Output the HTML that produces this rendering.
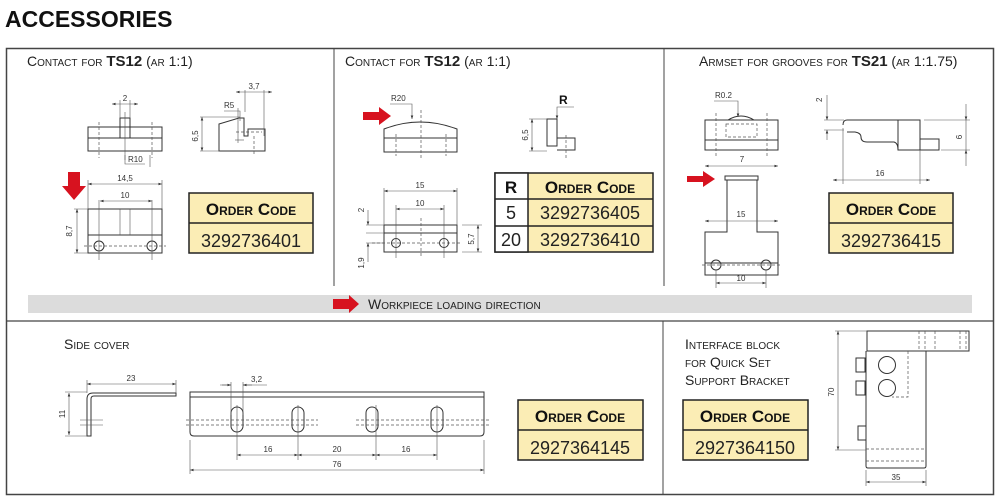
<!DOCTYPE html>
<html><head><meta charset="utf-8"><style>
body{margin:0;background:#fff;}
svg{display:block;font-family:"Liberation Sans",sans-serif;}
.t{font-variant:small-caps;font-size:14px;fill:#222;}
.d{font-size:8px;fill:#333;}
.l{stroke:#333;stroke-width:1;fill:none;}
.th{stroke:#555;stroke-width:.6;fill:none;}
.dash{stroke:#555;stroke-width:.7;fill:none;stroke-dasharray:3 2;}
.oc{font-variant:small-caps;font-weight:bold;font-size:17px;fill:#111;}
.num{font-size:18px;fill:#222;}
</style></head><body>
<svg width="1000" height="503" viewBox="0 0 1000 503">
<defs>
<marker id="a" markerWidth="6" markerHeight="6" refX="6" refY="3" orient="auto"><path d="M0,0.8 L6,3 L0,5.2Z" fill="#333"/></marker>
<marker id="b" markerWidth="6" markerHeight="6" refX="0" refY="3" orient="auto"><path d="M6,0.8 L0,3 L6,5.2Z" fill="#333"/></marker>
</defs>
<text x="5" y="27" font-size="23" font-weight="bold" fill="#111">ACCESSORIES</text>
<!-- frame -->
<rect x="6.5" y="48.5" width="987" height="446" fill="none" stroke="#444" stroke-width="1.5"/>
<line x1="334" y1="49" x2="334" y2="286" stroke="#444"/>
<line x1="664" y1="49" x2="664" y2="286" stroke="#444"/>
<line x1="6" y1="321" x2="994" y2="321" stroke="#444" stroke-width="1.2"/>
<line x1="663" y1="321" x2="663" y2="494" stroke="#444"/>
<rect x="28" y="295" width="944" height="18" fill="#dcdcdc"/>
<path d="M333,299 h16 v-4 l10,9 l-10,9 v-4 h-16z" fill="#d7121f"/>
<text x="368" y="309" class="t" font-size="13">Workpiece loading direction</text>

<!-- titles -->
<text x="27" y="66" class="t">Contact  for <tspan font-weight="bold" font-variant="normal" font-size="15">TS12</tspan> (ar 1:1)</text>
<text x="345" y="66" class="t">Contact  for <tspan font-weight="bold" font-variant="normal" font-size="15">TS12</tspan> (ar 1:1)</text>
<text x="699" y="66" class="t">Armset for grooves for <tspan font-weight="bold" font-variant="normal" font-size="15">TS21</tspan> (ar 1:1.75)</text>
<text x="64" y="349" class="t">Side cover</text>
<text x="685" y="349" class="t">Interface block</text>
<text x="685" y="367" class="t">for Quick Set</text>
<text x="685" y="385" class="t">Support Bracket</text>

<!-- order boxes -->
<g stroke="#222" stroke-width="1.5">
<rect x="189" y="193" width="124" height="60" fill="#fbedb5"/><line x1="189" y1="223" x2="313" y2="223"/>
<rect x="829" y="193" width="124" height="60" fill="#fbedb5"/><line x1="829" y1="223" x2="953" y2="223"/>
<rect x="518" y="400" width="125" height="60" fill="#fbedb5"/><line x1="518" y1="430" x2="643" y2="430"/>
<rect x="683" y="400" width="125" height="60" fill="#fbedb5"/><line x1="683" y1="430" x2="808" y2="430"/>
<rect x="495" y="173" width="158" height="79" fill="#fbedb5"/>
<rect x="495" y="173" width="33" height="79" fill="#fff"/>
<line x1="495" y1="199" x2="653" y2="199"/><line x1="495" y1="226" x2="653" y2="226"/>
</g>
<text x="251" y="215" class="oc" text-anchor="middle">Order Code</text>
<text x="251" y="247" class="num" text-anchor="middle">3292736401</text>
<text x="891" y="215" class="oc" text-anchor="middle">Order Code</text>
<text x="891" y="247" class="num" text-anchor="middle">3292736415</text>
<text x="580" y="422" class="oc" text-anchor="middle">Order Code</text>
<text x="580" y="454" class="num" text-anchor="middle">2927364145</text>
<text x="745" y="422" class="oc" text-anchor="middle">Order Code</text>
<text x="745" y="454" class="num" text-anchor="middle">2927364150</text>
<text x="511" y="193" class="oc" text-anchor="middle" font-variant="normal">R</text>
<text x="590" y="193" class="oc" text-anchor="middle">Order Code</text>
<text x="511" y="219" class="num" text-anchor="middle">5</text>
<text x="590" y="219" class="num" text-anchor="middle">3292736405</text>
<text x="511" y="246" class="num" text-anchor="middle">20</text>
<text x="590" y="246" class="num" text-anchor="middle">3292736410</text>

<!-- Panel 1 drawings -->
<path d="M68,172 h12 v14 h6 l-12,14 l-12,-14 h6z" fill="#d7121f"/>
<g transform="translate(0,40)">
<rect x="88" y="87" width="74" height="24" class="l"/><line x1="88" y1="98" x2="162" y2="98" class="l"/>
<rect x="120" y="78" width="10" height="20" class="l"/>
<line x1="125" y1="72" x2="125" y2="120" class="th"/>
<line x1="99" y1="82" x2="99" y2="118" class="dash"/><line x1="152" y1="82" x2="152" y2="118" class="dash"/>
<line x1="112" y1="64" x2="138" y2="64" class="th" marker-start="url(#b)" marker-end="url(#a)"/>
<path d="M120,60 v18 M130,60 v18" class="th"/>
<text x="125" y="61" class="d" text-anchor="middle">2</text>
<path d="M125,115 v9 h20 M150,115 v12" class="th"/><text x="128" y="122" class="d">R10</text>
<path d="M219,111 v-27 l20,-6 h5 v18 h4 v-7 h17 v22 z" class="l"/>
<line x1="202" y1="77" x2="202" y2="111" class="th" marker-start="url(#b)" marker-end="url(#a)"/>
<path d="M200,77 h40 M200,111 h20" class="th"/>
<text x="198" y="96" class="d" transform="rotate(-90 198 96)" text-anchor="middle">6,5</text>
<line x1="236" y1="92" x2="262" y2="92" class="dash"/>
<line x1="238" y1="68" x2="238" y2="103" class="th"/><line x1="235" y1="100" x2="244" y2="100" class="th"/>
<path d="M224,71 h16 v10" class="th"/><text x="224" y="68" class="d">R5</text>
<line x1="245" y1="50" x2="245" y2="72" class="th"/><line x1="264" y1="50" x2="264" y2="96" class="th"/>
<line x1="236" y1="52" x2="272" y2="52" class="th" marker-start="url(#b)" marker-end="url(#a)"/>
<text x="254" y="49" class="d" text-anchor="middle">3,7</text>
<line x1="254" y1="96" x2="254" y2="115" class="dash"/>
<rect x="88" y="169" width="74" height="44" class="l"/><line x1="88" y1="195" x2="162" y2="195" class="l"/>
<line x1="120" y1="169" x2="120" y2="195" class="th"/><line x1="130" y1="169" x2="130" y2="195" class="th"/>
<circle cx="99" cy="206" r="5" class="l"/><circle cx="152" cy="206" r="5" class="l"/>
<line x1="84" y1="206" x2="166" y2="206" class="dash"/>
<line x1="99" y1="160" x2="99" y2="220" class="th"/><line x1="152" y1="160" x2="152" y2="220" class="th"/>
<line x1="88" y1="140" x2="88" y2="169" class="th"/><line x1="162" y1="140" x2="162" y2="169" class="th"/>
<line x1="88" y1="144" x2="162" y2="144" class="th" marker-start="url(#b)" marker-end="url(#a)"/>
<text x="125" y="141" class="d" text-anchor="middle">14,5</text>
<line x1="100" y1="161" x2="152" y2="161" class="th" marker-start="url(#b)" marker-end="url(#a)"/>
<text x="125" y="158" class="d" text-anchor="middle">10</text>
<line x1="77" y1="169" x2="77" y2="213" class="th" marker-start="url(#b)" marker-end="url(#a)"/>
<path d="M74,169 h14 M74,213 h14" class="th"/>
<text x="72" y="191" class="d" transform="rotate(-90 72 191)" text-anchor="middle">8,7</text>
</g>

<!-- Panel 2 drawings -->
<path d="M363,112 h16 v-5 l12,9 l-12,9 v-5 h-16z" fill="#d7121f"/>
<path d="M384,152 v-23 q36,-14 73,0 v23 z" class="l"/><line x1="384" y1="138" x2="457" y2="138" class="l"/>
<line x1="421" y1="110" x2="421" y2="158" class="dash"/>
<line x1="396" y1="134" x2="396" y2="156" class="dash"/><line x1="446" y1="134" x2="446" y2="156" class="dash"/>
<path d="M390,104 h22 v15" class="th" marker-end="url(#a)"/><text x="391" y="101" class="d">R20</text>
<path d="M547,146 v-27 h10 v27 z M557,138 h18 v12 h-18" class="l"/>
<path d="M574,107 h-17 v12" class="th" marker-end="url(#a)"/>
<text x="559" y="104" font-size="12" font-weight="bold" fill="#111">R</text>
<line x1="532" y1="119" x2="532" y2="151" class="th" marker-start="url(#b)" marker-end="url(#a)"/>
<path d="M529,119 h18 M529,151 h18" class="th"/>
<text x="528" y="135" class="d" transform="rotate(-90 528 135)" text-anchor="middle">6,5</text>
<line x1="566" y1="135" x2="566" y2="158" class="dash"/>
<rect x="384" y="225" width="73" height="27" class="l"/><line x1="384" y1="233" x2="457" y2="233" class="l"/>
<circle cx="396" cy="243" r="4.5" class="l"/><circle cx="444" cy="243" r="4.5" class="l"/>
<line x1="372" y1="243" x2="462" y2="243" class="dash"/>
<line x1="421" y1="218" x2="421" y2="258" class="dash"/>
<line x1="396" y1="205" x2="396" y2="258" class="th"/><line x1="444" y1="205" x2="444" y2="258" class="th"/>
<line x1="384" y1="188" x2="384" y2="225" class="th"/><line x1="457" y1="188" x2="457" y2="225" class="th"/>
<line x1="384" y1="191" x2="457" y2="191" class="th" marker-start="url(#b)" marker-end="url(#a)"/>
<text x="420" y="188" class="d" text-anchor="middle">15</text>
<line x1="396" y1="209" x2="444" y2="209" class="th" marker-start="url(#b)" marker-end="url(#a)"/>
<text x="420" y="206" class="d" text-anchor="middle">10</text>
<path d="M366,225 h18 M366,233 h18 M366,243 h18 M462,225 h20 M462,252 h20" class="th"/>
<line x1="368" y1="210" x2="368" y2="225" class="th" marker-end="url(#a)"/>
<line x1="368" y1="262" x2="368" y2="243" class="th" marker-end="url(#a)"/>
<text x="364" y="210" class="d" transform="rotate(-90 364 210)" text-anchor="middle">2</text>
<text x="364" y="263" class="d" transform="rotate(-90 364 263)" text-anchor="middle">1,9</text>
<line x1="478" y1="225" x2="478" y2="252" class="th" marker-start="url(#b)" marker-end="url(#a)"/>
<text x="474" y="239" class="d" transform="rotate(-90 474 239)" text-anchor="middle">5,7</text>

<!-- Panel 3 drawings -->
<rect x="705" y="120" width="73" height="30" class="l"/><line x1="705" y1="140" x2="778" y2="140" class="l"/>
<path d="M728,120 q13,-8 26,0" class="l"/>
<rect x="726" y="124" width="31" height="13" class="dash"/>
<line x1="716" y1="113" x2="716" y2="156" class="dash"/><line x1="767" y1="113" x2="767" y2="156" class="dash"/>
<path d="M714,101 h24 v16" class="th" marker-end="url(#a)"/><text x="715" y="98" class="d">R0.2</text>
<path d="M687,176 h16 v-5 l12,8 l-12,8 v-5 h-16z" fill="#d7121f"/>
<rect x="725" y="176" width="33" height="4" class="l"/>
<path d="M727,180 v52 h-22 v43 h73 v-43 h-21 v-52" class="l"/>
<line x1="705" y1="263" x2="778" y2="263" class="l"/>
<circle cx="716" cy="265" r="5" class="l"/><circle cx="766" cy="265" r="5" class="l"/>
<line x1="702" y1="265" x2="782" y2="265" class="dash"/>
<line x1="705" y1="166" x2="778" y2="166" class="th" marker-start="url(#b)" marker-end="url(#a)"/>
<text x="742" y="162" class="d" text-anchor="middle">7</text>
<line x1="705" y1="221" x2="778" y2="221" class="th" marker-start="url(#b)" marker-end="url(#a)"/>
<text x="741" y="217" class="d" text-anchor="middle">15</text>
<line x1="716" y1="283" x2="766" y2="283" class="th" marker-start="url(#b)" marker-end="url(#a)"/>
<line x1="716" y1="270" x2="716" y2="288" class="th"/><line x1="766" y1="270" x2="766" y2="288" class="th"/>
<text x="741" y="281" class="d" text-anchor="middle">10</text>
<path d="M843,125 q0,-5 4,-5 h73 v30 h-22 q0,-7 -4,-8 h-27 q-6,0 -6,-5 q0,-4 -6,-5 h-8" class="l"/>
<path d="M898,120 v30 M920,139 h19 v11 h-19" class="l"/>
<line x1="843" y1="128" x2="843" y2="184" class="th"/><line x1="920" y1="150" x2="920" y2="184" class="th"/>
<line x1="833" y1="180" x2="930" y2="180" class="th" marker-start="url(#b)" marker-end="url(#a)"/>
<text x="880" y="176" class="d" text-anchor="middle">16</text>
<path d="M824,120 h20 M824,130 h20" class="th"/>
<line x1="827" y1="95" x2="827" y2="120" class="th" marker-end="url(#a)"/>
<line x1="827" y1="140" x2="827" y2="130" class="th" marker-end="url(#a)"/>
<text x="822" y="102" class="d" transform="rotate(-90 822 102)">2</text>
<path d="M924,120 h46 M941,150 h29" class="th"/>
<line x1="966" y1="104" x2="966" y2="120" class="th" marker-end="url(#a)"/>
<line x1="966" y1="166" x2="966" y2="150" class="th" marker-end="url(#a)"/>
<line x1="966" y1="120" x2="966" y2="150" class="th"/>
<text x="962" y="137" class="d" transform="rotate(-90 962 137)" text-anchor="middle">6</text>

<!-- Side cover -->
<path d="M87,436 v-37 q0,-6 6,-6 h83 v3 h-82 q-3,0 -3,3 v37 z" class="l"/>
<path d="M80,420 h23 M80,425 h23" class="th"/>
<line x1="87" y1="384" x2="176" y2="384" class="th" marker-start="url(#b)" marker-end="url(#a)"/>
<path d="M87,380 v13 M176,380 v13" class="th"/>
<text x="131" y="381" class="d" text-anchor="middle">23</text>
<line x1="69" y1="393" x2="69" y2="435" class="th" marker-start="url(#b)" marker-end="url(#a)"/>
<path d="M65,392 h22 M65,436 h22" class="th"/>
<text x="65" y="414" class="d" transform="rotate(-90 65 414)" text-anchor="middle">11</text>
<path d="M190,392 h294 v40 q0,4 -4,4 h-286 q-4,0 -4,-4 z" class="l"/>
<line x1="190" y1="397" x2="484" y2="397" class="l"/>
<g class="l"><rect x="231" y="407" width="12" height="25" rx="6"/><rect x="292" y="407" width="12" height="25" rx="6"/><rect x="366" y="407" width="12" height="25" rx="6"/><rect x="431" y="407" width="12" height="25" rx="6"/></g>
<path d="M186,420 h132 M186,425 h132 M356,420 h134 M356,425 h134" class="dash"/>
<g class="th"><line x1="237" y1="405" x2="237" y2="460"/><line x1="298" y1="405" x2="298" y2="460"/><line x1="376" y1="405" x2="376" y2="460"/><line x1="437" y1="405" x2="437" y2="460"/>
<line x1="190" y1="440" x2="190" y2="474"/><line x1="484" y1="440" x2="484" y2="474"/>
<line x1="231" y1="382" x2="231" y2="415"/><line x1="243" y1="382" x2="243" y2="415"/></g>
<line x1="237" y1="455" x2="298" y2="455" class="th" marker-start="url(#b)" marker-end="url(#a)"/>
<line x1="298" y1="455" x2="376" y2="455" class="th" marker-start="url(#b)" marker-end="url(#a)"/>
<line x1="376" y1="455" x2="437" y2="455" class="th" marker-start="url(#b)" marker-end="url(#a)"/>
<line x1="190" y1="470" x2="484" y2="470" class="th" marker-start="url(#b)" marker-end="url(#a)"/>
<text x="268" y="452" class="d" text-anchor="middle">16</text>
<text x="337" y="452" class="d" text-anchor="middle">20</text>
<text x="406" y="452" class="d" text-anchor="middle">16</text>
<text x="337" y="467" class="d" text-anchor="middle">76</text>
<path d="M220,385 h11 M243,385 h24" class="th"/>
<line x1="222" y1="385" x2="231" y2="385" class="th" marker-end="url(#a)"/>
<line x1="252" y1="385" x2="243" y2="385" class="th" marker-end="url(#a)"/>
<text x="251" y="382" class="d">3,2</text>

<!-- Interface block -->
<rect x="867" y="331" width="102" height="20" class="l"/>
<path d="M866,351 v115 q0,2 2,2 h56 q2,0 2,-2 v-115" class="l"/>
<g class="l"><rect x="856" y="358" width="9" height="14"/><rect x="856" y="381" width="9" height="14"/><rect x="858" y="426" width="8" height="14"/></g>
<circle cx="887" cy="365" r="8.5" class="l"/><circle cx="887" cy="388" r="8.5" class="l"/>
<path d="M908,351 v46 h-16 M919,331 v20 M925,331 v20 M935,331 v20 M960,331 v20 M966,331 v20 M866,449 h60 M866,461 h60" class="dash"/>
<line x1="838" y1="331" x2="838" y2="450" class="th" marker-start="url(#b)" marker-end="url(#a)"/>
<path d="M835,331 h32 M835,450 h31" class="th"/>
<text x="834" y="392" class="d" transform="rotate(-90 834 392)" text-anchor="middle">70</text>
<line x1="866" y1="482" x2="926" y2="482" class="th" marker-start="url(#b)" marker-end="url(#a)"/>
<path d="M866,470 v16 M926,470 v16" class="th"/>
<text x="896" y="480" class="d" text-anchor="middle">35</text>
</svg>
</body></html>
